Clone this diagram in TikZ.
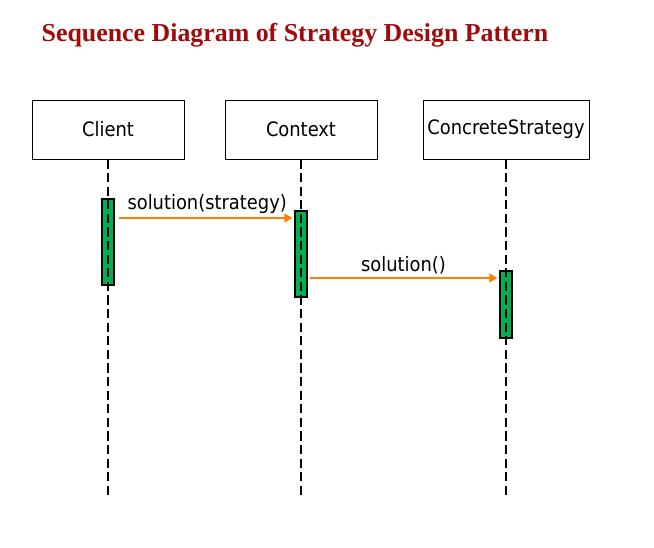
\documentclass[tikz,border=0pt]{standalone}
\usepackage{fontspec}
\setmainfont{DejaVu Sans Condensed}
\newfontfamily\titlefont{Liberation Serif}
\usepackage{tikz}
\usetikzlibrary{positioning,calc,arrows.meta}
\definecolor{titlered}{RGB}{160,10,10}
\definecolor{barfill}{RGB}{0,176,80}
\definecolor{msgorange}{RGB}{255,128,0}
\tikzset{obj/.style = {rectangle,draw,line width=0.7pt,minimum height=44.25pt,font=\fontsize{14.9}{17}\selectfont},
         actbar/.style = {rectangle,draw,line width=0.9pt,fill=barfill,minimum width=9pt,inner sep=0pt},
         lifeline/.style = {line width=2.1pt,dash pattern=on 6.8pt off 3.4pt},
         msg/.style = {draw=msgorange,line width=2pt,-{Triangle[length=6pt,width=6.5pt]}},
         msglabel/.style = {font=\fontsize{14.9}{17}\selectfont,inner sep=2pt}}

\begin{document}
\begin{tikzpicture}[x=0.75pt,y=-0.75pt]
        \useasboundingbox (0,0) rectangle (654,548);
        \node [anchor=base west,text=titlered,font=\titlefont\bfseries\fontsize{19.4}{22}\selectfont] (title) at (37,41.5) {Sequence Diagram of Strategy Design Pattern};
        % objects
        \node [obj,minimum width=114pt] (client) at (108,129.5) {Client};
        \node [obj,minimum width=114pt] (context) at (301,129.5) {Context};
        \node [obj,minimum width=124.5pt] (strategy) at (506,129.5) {ConcreteStrategy};
        \coordinate (clientend) at (108,497);
        \coordinate (contextend) at (301,497);
        \coordinate (strategyend) at (506,497);
        % activations
        \node [actbar,minimum height=64.5pt] (clientbar) at (108,242) {};
        \node [actbar,minimum height=64.5pt] (contextbar) at (301,254) {};
        \node [actbar,minimum height=50.25pt] (strategybar) at (506,304.5) {};
        % lifelines
        \draw [lifeline] (client.south) -- (clientend);
        \draw [lifeline] (context.south) -- (contextend);
        \draw [lifeline] (strategy.south) -- (strategyend);
        % messages
        \draw [msg,shorten <=3pt,shorten >=1.5pt] (clientbar.east |- 0,218) -- (contextbar.west |- 0,218) node [msglabel,midway,above,xshift=2pt] {solution(strategy)};
        \draw [msg,shorten <=2pt,shorten >=1.5pt] (contextbar.east |- 0,278) -- (strategybar.west |- 0,278) node [msglabel,midway,above] {solution()};
    \end{tikzpicture}
\end{document}
